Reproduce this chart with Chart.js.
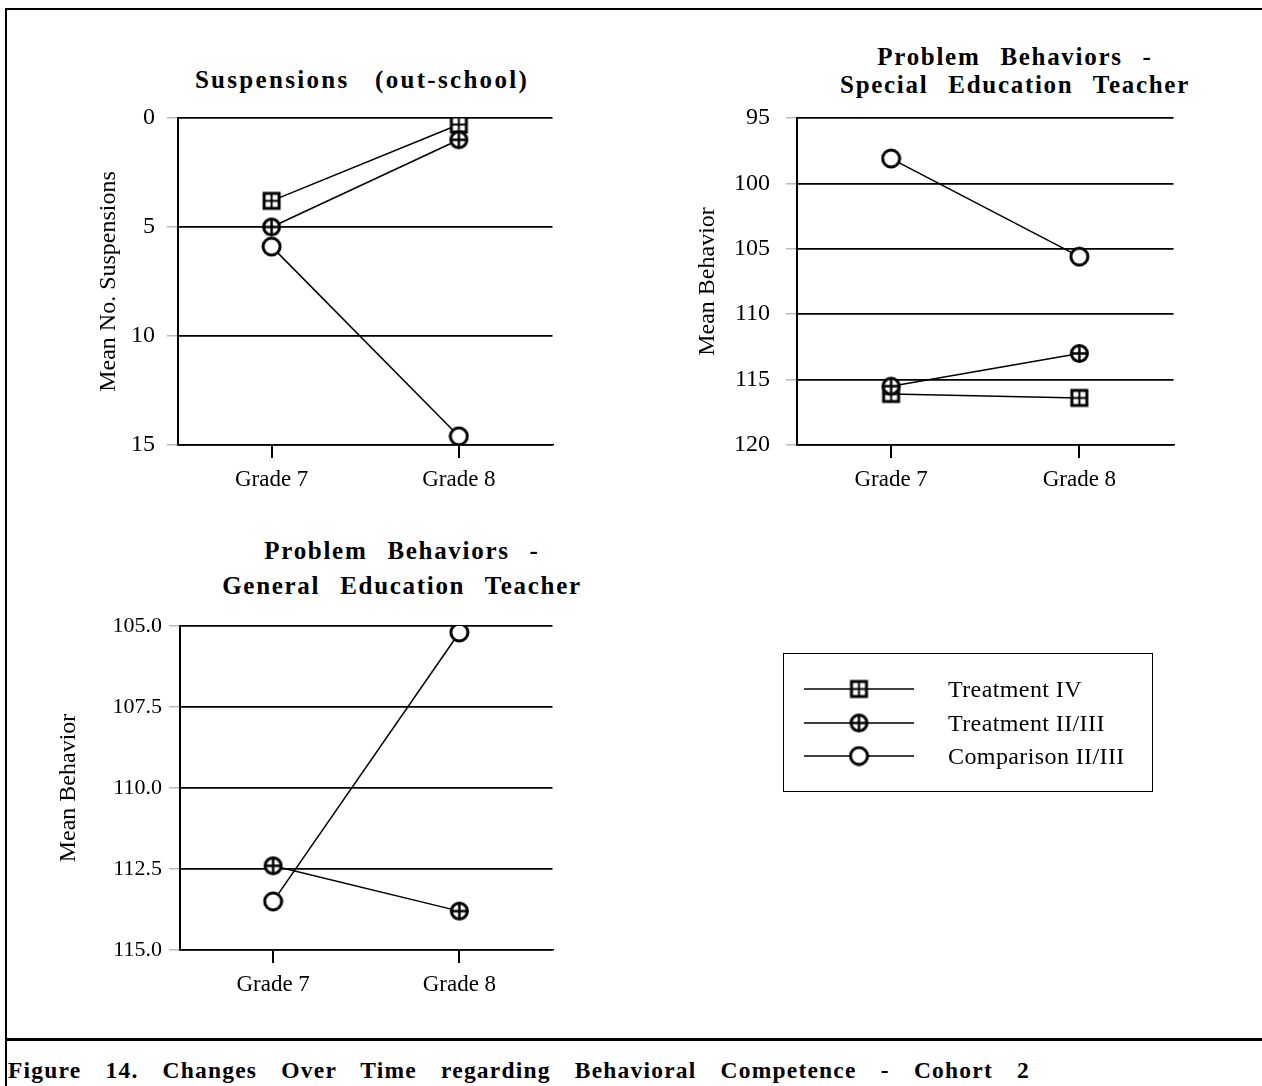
<!DOCTYPE html>
<html>
<head>
<meta charset="utf-8">
<script src="https://cdn.jsdelivr.net/npm/chart.js@4"></script>
<style>
  body { margin: 0; background: #fff; width: 1262px; height: 1086px; overflow: hidden; position: relative;
         font-family: 'Liberation Serif', 'Times New Roman', serif; color: #000; }
  #frame { position: absolute; left: 5px; top: 8px; width: 1270px; height: 1100px;
           border-left: 2px solid #000; border-top: 2px solid #000; }
  #sep { position: absolute; left: 5px; top: 1038px; width: 1262px; border-top: 3px solid #000; }
  canvas.plot { position: absolute; }
  .title { position: absolute; font-weight: bold; font-size: 25px; text-align: center; line-height: 28px;
           letter-spacing: 1.7px; word-spacing: 12px; white-space: nowrap; }
  #caption { position: absolute; left: 8px; top: 1057px; width: 1022px; font-weight: bold; font-size: 23.5px;
             text-align: justify; text-align-last: justify; letter-spacing: 1.2px; white-space: nowrap; }
  #legend { position: absolute; left: 783px; top: 653px; width: 368px; height: 137px; border: 1.5px solid #000; }
  .row { position: absolute; left: 18px; height: 26px; display: flex; align-items: center; font-size: 24px;
         letter-spacing: 0.4px; white-space: nowrap; }
  .row canvas { margin-right: 34px; }
</style>
</head>
<body>
<div id="frame"></div>
<div id="sep"></div>

<div class="title" style="left:162px; top:65px; width:400px; line-height:30px; word-spacing:0; letter-spacing:2.3px;">Suspensions&nbsp;&nbsp; (out-school)</div>
<div class="title" style="left:815px; top:43px; width:400px;">Problem Behaviors -<br>Special Education Teacher</div>
<div class="title" style="left:202px; top:533px; width:400px; line-height:35px;">Problem Behaviors -<br>General Education Teacher</div>

<canvas id="c1" class="plot" style="left:40px; top:100px;" width="524" height="400"></canvas>
<canvas id="c2" class="plot" style="left:680px; top:100px;" width="505" height="400"></canvas>
<canvas id="c3" class="plot" style="left:40px; top:608px;" width="524" height="397"></canvas>

<div id="legend">
  <div class="row" style="top:22px;"><canvas id="lg0" width="112" height="24"></canvas>Treatment IV</div>
  <div class="row" style="top:56px;"><canvas id="lg1" width="112" height="24"></canvas>Treatment II/III</div>
  <div class="row" style="top:89px;"><canvas id="lg2" width="112" height="24"></canvas>Comparison II/III</div>
</div>

<div id="caption">Figure 14. Changes Over Time regarding Behavioral Competence - Cohort 2</div>

<script>
// données
const grades = ['Grade 7', 'Grade 8'];
const seriesNames = ['Treatment IV', 'Treatment II/III', 'Comparison II/III'];

const suspTicks = [0, 5, 10, 15];
const suspTreatIV = [3.8, 0.3];
const suspTreatII = [5.0, 1.0];
const suspComp = [5.9, 14.6];

const specTicks = [95, 100, 105, 110, 115, 120];
const specTreatIV = [116.1, 116.4];
const specTreatII = [115.5, 113.0];
const specComp = [98.1, 105.6];

const genTicks = [105, 107.5, 110, 112.5, 115];
const genTreatII = [112.4, 113.8];
const genComp = [113.5, 105.2];

const serif = "'Liberation Serif', 'Times New Roman', serif";

// les symboles des points
function makeMarker(kind) {
    const c = document.createElement('canvas');
    c.width = 21; c.height = 21;
    const g = c.getContext('2d');
    g.strokeStyle = '#000';
    if (kind === 'square') {
        g.fillStyle = '#000';
        g.fillRect(1.5, 1.5, 18, 18);
        g.fillStyle = '#fff';
        g.fillRect(4.5, 4.5, 5, 5);
        g.fillRect(11.5, 4.5, 5, 5);
        g.fillRect(4.5, 11.5, 5, 5);
        g.fillRect(11.5, 11.5, 5, 5);
    } else {
        g.fillStyle = '#fff';
        g.lineWidth = 3;
        g.beginPath();
        g.arc(10.5, 10.5, kind === 'cross' ? 8 : 8.5, 0, Math.PI * 2);
        g.fill();
        g.stroke();
        if (kind === 'cross') {
            g.lineWidth = 2.5;
            g.beginPath();
            g.moveTo(10.5, 3); g.lineTo(10.5, 18);
            g.moveTo(3, 10.5); g.lineTo(18, 10.5);
            g.stroke();
        }
    }
    return c;
}
const markers = [makeMarker('square'), makeMarker('cross'), makeMarker('circle')];

function dataset(idx, values) {
    return {
        label: seriesNames[idx],
        data: values,
        borderColor: '#000',
        borderWidth: 1.5,
        tension: 0,
        pointStyle: markers[idx],
        pointRadius: 10,
        pointHoverRadius: 10
    };
}

function makeChart(id, datasets, ticks, yTitle, opts) {
    return new Chart(document.getElementById(id), {
        type: 'line',
        data: { labels: grades, datasets: datasets },
        options: {
            responsive: false,
            devicePixelRatio: 1,
            animation: false,
            layout: { padding: { top: 18, right: opts.right } },
            plugins: { legend: { display: false }, tooltip: { enabled: false } },
            scales: {
                x: {
                    offset: true,
                    // hauteur fixe, pas de marge en plus pour les étiquettes
                    afterFit: s => { s.height = 55; s.paddingLeft = 0; s.paddingRight = 0; },
                    grid: { offset: false, drawOnChartArea: false, color: '#000', lineWidth: 2, tickLength: 13 },
                    border: { color: '#000', width: 1.5 },
                    ticks: { color: '#000', padding: 8, font: { family: serif, size: 23 } }
                },
                y: {
                    reverse: true,
                    min: ticks[0],
                    max: ticks[ticks.length - 1],
                    afterFit: s => { s.width = opts.yWidth; s.paddingTop = 0; s.paddingBottom = 0; },
                    afterBuildTicks: s => { s.ticks = ticks.map(v => ({ value: v })); },
                    grid: { color: '#000', lineWidth: 1.7, tickColor: '#999', tickWidth: 1, tickLength: 11 },
                    border: { color: '#000', width: 2 },
                    ticks: {
                        color: '#000', padding: opts.tickPad, font: { family: serif, size: opts.tickSize },
                        callback: v => opts.decimals ? v.toFixed(1) : v
                    },
                    title: {
                        display: true, text: yTitle, color: '#000',
                        font: { family: serif, size: 24 }, padding: { top: opts.titlePad }
                    }
                }
            }
        }
    });
}

makeChart('c1', [dataset(1, suspTreatII), dataset(0, suspTreatIV), dataset(2, suspComp)],
    suspTicks, 'Mean No. Suspensions', { right: 8, yWidth: 138, titlePad: 54, tickSize: 24, tickPad: 12 });
makeChart('c2', [dataset(1, specTreatII), dataset(0, specTreatIV), dataset(2, specComp)],
    specTicks, 'Mean Behavior', { right: 7, yWidth: 117, titlePad: 13, tickSize: 24, tickPad: 16 });
makeChart('c3', [dataset(1, genTreatII), dataset(2, genComp)],
    genTicks, 'Mean Behavior', { right: 8, yWidth: 140, titlePad: 14, tickSize: 22, tickPad: 7, decimals: true });

// légende à part, dans la boîte
markers.forEach((m, i) => {
    const g = document.getElementById('lg' + i).getContext('2d');
    g.strokeStyle = '#000';
    g.lineWidth = 1.5;
    g.beginPath();
    g.moveTo(2, 12); g.lineTo(112, 12);
    g.stroke();
    g.drawImage(m, 57 - 10.5, 12 - 10.5);
});
</script>
</body>
</html>
